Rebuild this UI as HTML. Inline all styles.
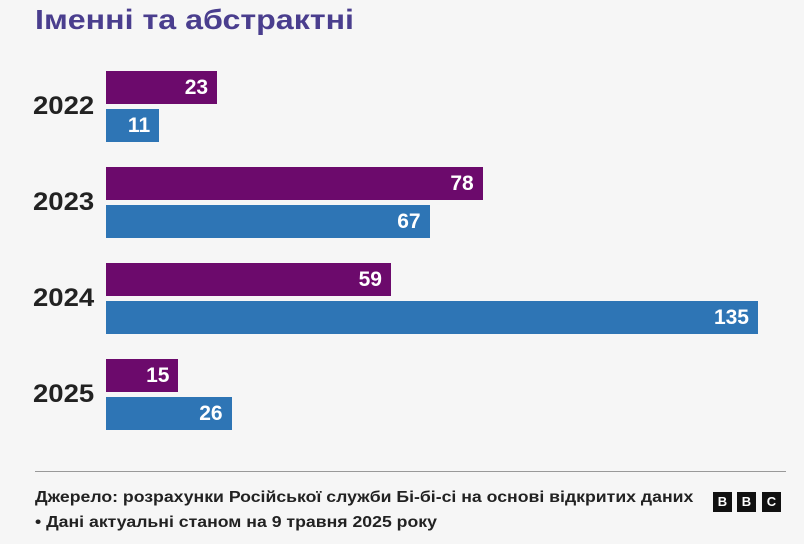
<!DOCTYPE html>
<html><head><meta charset="utf-8"><style>
body{margin:0;width:804px;height:544px;background:#f6f6f6;font-family:"Liberation Sans","DejaVu Sans",sans-serif;position:relative;overflow:hidden}
.t{position:absolute;left:35px;top:4px;font-size:28px;font-weight:bold;color:#4a3e8e;white-space:nowrap;transform:scaleX(1.15);transform-origin:left}
.yr{position:absolute;left:33px;font-size:25px;font-weight:bold;color:#222;transform:scaleX(1.1);transform-origin:left}
.bar{position:absolute;height:33px;color:#fff;font-weight:bold;font-size:21px;line-height:33px;text-align:right;box-sizing:border-box;padding-right:9px}
.f{position:absolute;left:35px;font-size:15.5px;font-weight:bold;color:#222;white-space:nowrap;transform:scaleX(1.14);transform-origin:left}
.b{position:absolute;top:492px;width:19px;height:20px;background:#111;color:#fff;font-size:13px;font-weight:bold;text-align:center;line-height:20px}
</style></head><body>
<div class="t">Іменні та абстрактні</div>
<div id="chart"></div>
<div style="position:absolute;left:35px;top:471px;width:751px;height:1px;background:#999"></div>
<div class="f" style="top:489px">Джерело: розрахунки Російської служби Бі-бі-сі на основі відкритих даних</div>
<div class="f" style="top:514px">• Дані актуальні станом на 9 травня 2025 року</div>
<div class="b" style="left:713px">B</div>
<div class="b" style="left:737px">B</div>
<div class="b" style="left:762px">C</div>
<script>
const years=["2022","2023","2024","2025"];
const named=[23,78,59,15];
const abstract=[11,67,135,26];
const x0=106,scale=(758-106)/135,top0=71,step=96;
const c=document.getElementById('chart');
function xw(v){return v*scale;}
years.forEach((y,i)=>{
  const t=top0+i*step;
  const l=document.createElement('div');l.className='yr';l.style.top=(t+21)+'px';l.textContent=y;
  
  
  c.appendChild(l);
  [[named[i],'#6c0a6c',t,'named'],[abstract[i],'#2e75b5',t+38,'abstract']].forEach(([v,col,yy,s])=>{
    const b=document.createElement('div');b.className='bar';
    b.style.left=x0+'px';b.style.top=yy+'px';b.style.width=xw(v)+'px';b.style.background=col;b.textContent=v;
    
    
    c.appendChild(b);
  });
});
</script>
</body></html>
